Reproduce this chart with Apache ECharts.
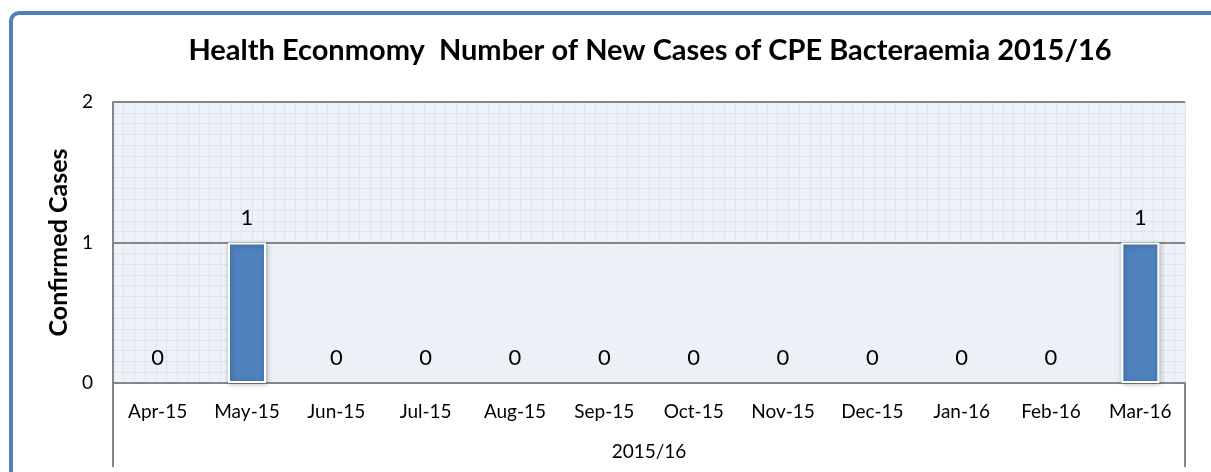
<!DOCTYPE html>
<html>
<head>
<meta charset="utf-8">
<script src="https://cdn.jsdelivr.net/npm/echarts@6/dist/echarts.min.js"></script>
<style>
html,body{margin:0;padding:0;background:#fff;}
#chart{width:1211px;height:472px;}
</style>
</head>
<body>
<div id="chart"></div>
<script>
const titleText = 'Health Econmomy  Number of New Cases of CPE Bacteraemia 2015/16';
const categories = ['Apr-15','May-15','Jun-15','Jul-15','Aug-15','Sep-15','Oct-15','Nov-15','Dec-15','Jan-16','Feb-16','Mar-16'];
const confirmedCases = [0,1,0,0,0,0,0,0,0,0,0,1];
const groupLabels = ['2015/16'];
const yAxisName = 'Confirmed Cases';

const FONT = 'Lato';
const barData = confirmedCases.map(v => v === 0
  ? {value:v, itemStyle:{borderWidth:0, shadowBlur:0, shadowOffsetX:0, shadowOffsetY:0}}
  : v);

const chart = echarts.init(document.getElementById('chart'), null, {renderer:'canvas'});
chart.setOption({
  backgroundColor:'#ffffff',
  animation:false,
  title:{
    text:titleText, left:645, textAlign:'center', top:31,
    textStyle:{fontFamily:FONT, fontWeight:'bold', fontSize:29, color:'#000'}
  },
  graphic:[{
    type:'rect', left:9, top:11, z:-1, silent:true,
    shape:{width:1300, height:600, r:8},
    style:{fill:'transparent', stroke:'#4F81BD', lineWidth:4}
  }],
  grid:{left:113, right:26, top:102, bottom:89, show:true, backgroundColor:'#EDF1F8', borderWidth:0},
  xAxis:[{
    type:'category', data:categories, position:'bottom',
    axisLine:{show:true, lineStyle:{color:'#868686', width:2}},
    axisTick:{show:false},
    axisLabel:{margin:19, fontFamily:FONT, fontSize:19, color:'#000', interval:0},
    z:3
  },{
    type:'category', data:groupLabels, position:'bottom',
    axisLine:{show:false},
    axisTick:{show:true, length:84, alignWithLabel:false, lineStyle:{color:'#868686', width:2}},
    axisLabel:{margin:59, fontFamily:FONT, fontSize:19, color:'#000'}
  },{
    type:'value', min:0, max:100, interval:1, position:'top',
    axisLine:{show:false}, axisTick:{show:false}, axisLabel:{show:false},
    splitLine:{show:true, lineStyle:{color:'#DCE4F0', width:1}}
  }],
  yAxis:[{
    type:'value', min:0, max:2, interval:1,
    name:yAxisName, nameLocation:'middle', nameRotate:90, nameGap:42,
    nameTextStyle:{fontFamily:FONT, fontWeight:'bold', fontSize:25, color:'#000'},
    axisLine:{show:true, lineStyle:{color:'#868686', width:2}},
    axisTick:{show:false},
    axisLabel:{margin:20, fontFamily:FONT, fontSize:19, color:'#000'},
    splitLine:{show:true, lineStyle:{color:'#868686', width:2}},
    z:3
  },{
    type:'value', min:0, max:26, interval:1, position:'right',
    axisLine:{show:false}, axisTick:{show:false}, axisLabel:{show:false},
    splitLine:{show:true, lineStyle:{color:'#DCE4F0', width:1}}
  }],
  series:[{
    type:'line', data:[], xAxisIndex:0, yAxisIndex:0, z:2, silent:true,
    markArea:{silent:true, itemStyle:{color:'#ECF1F8'},
      data:[[{xAxis:categories[1], yAxis:0},{xAxis:categories[11], yAxis:1}]]}
  },{
    type:'bar', data:barData, xAxisIndex:0, yAxisIndex:0, z:4,
    barWidth:38,
    itemStyle:{color:'#4F81BD', borderColor:'#ffffff', borderWidth:2,
      shadowBlur:5, shadowColor:'rgba(0,0,0,0.3)', shadowOffsetX:1, shadowOffsetY:1},
    label:{show:true, position:'top', distance:14, fontFamily:FONT, fontSize:22, color:'#000'}
  }]
});
</script>
</body>
</html>
